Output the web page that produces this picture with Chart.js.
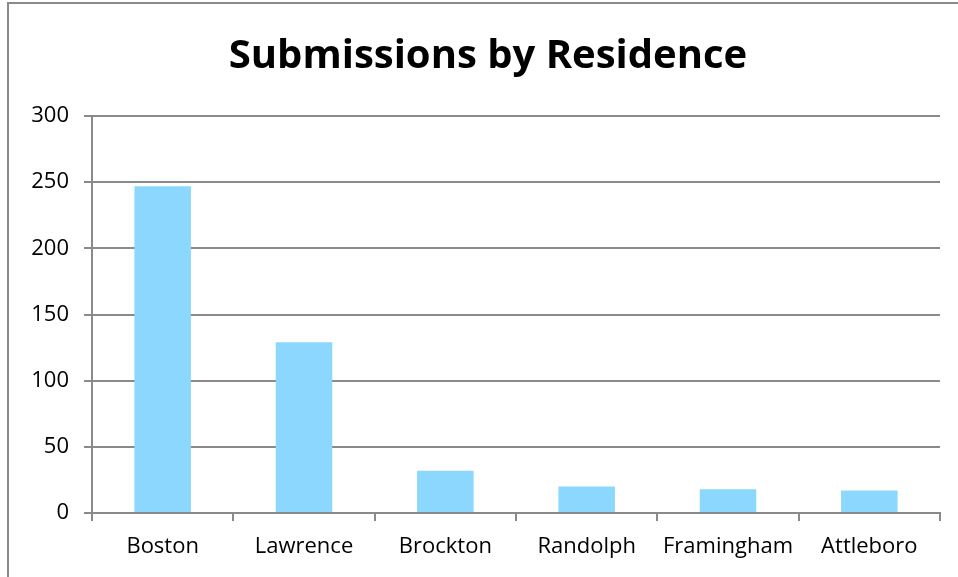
<!DOCTYPE html>
<html>
<head>
<meta charset="utf-8">
<script src="https://cdn.jsdelivr.net/npm/chart.js@4"></script>
<style>
  html, body { margin: 0; padding: 0; background: #fff; }
  #wrap { width: 958px; height: 577px; }
</style>
</head>
<body>
<div id="wrap"><canvas id="grafico" width="958" height="577"></canvas></div>
<script>
// Dados do gráfico
const cidades = ["Boston", "Lawrence", "Brockton", "Randolph", "Framingham", "Attleboro"];
const submissoes = [247, 129, 32, 20, 18, 17];
const ticksY = [0, 50, 100, 150, 200, 250, 300];
const titulo = "Submissions by Residence";

const corEixo = "#8a8a8a";
const fonte = "'Open Sans', 'Noto Sans', sans-serif";

// Moldura cinza e título, desenhados à parte
const moldura = {
    id: "moldura",
    beforeDraw(chart) {
        const ctx = chart.ctx;
        ctx.save();
        ctx.strokeStyle = corEixo;
        ctx.lineWidth = 2;
        ctx.strokeRect(8, 3, chart.width, chart.height);
        ctx.fillStyle = "#000";
        ctx.font = "bold 40px " + fonte;
        ctx.textAlign = "center";
        ctx.textBaseline = "alphabetic";
        ctx.fillText(titulo, 488, 68);
        ctx.restore();
    }
};

new Chart(document.getElementById("grafico"), {
    type: "bar",
    data: {
        labels: cidades,
        datasets: [{
            label: "Submissions",
            data: submissoes,
            backgroundColor: "#8cd7fd",
            borderWidth: 0,
            categoryPercentage: 0.8,
            barPercentage: 0.5
        }]
    },
    options: {
        responsive: false,
        animation: false,
        layout: { padding: { left: 8, right: 18, top: 116, bottom: 0 } },
        plugins: {
            legend: { display: false },
            tooltip: { enabled: false },
            title: { display: false }
        },
        scales: {
            x: {
                grid: {
                    offset: true,
                    drawOnChartArea: false,
                    drawTicks: true,
                    tickLength: 8,
                    color: corEixo,
                    lineWidth: 2
                },
                border: { color: corEixo, width: 2 },
                ticks: {
                    color: "#000",
                    font: { family: fonte, size: 22 },
                    padding: 13,
                    maxRotation: 0
                },
                afterFit(scale) { scale.height = 64; }
            },
            y: {
                min: 0,
                max: 300,
                afterBuildTicks(scale) {
                    scale.ticks = ticksY.map(v => ({ value: v }));
                },
                grid: {
                    color: corEixo,
                    lineWidth: 2,
                    tickLength: 8
                },
                border: { color: corEixo, width: 2 },
                ticks: {
                    color: "#000",
                    font: { family: fonte, size: 22 },
                    padding: 15
                },
                afterFit(scale) { scale.width = 84; }
            }
        }
    },
    plugins: [moldura]
});
</script>
</body>
</html>
